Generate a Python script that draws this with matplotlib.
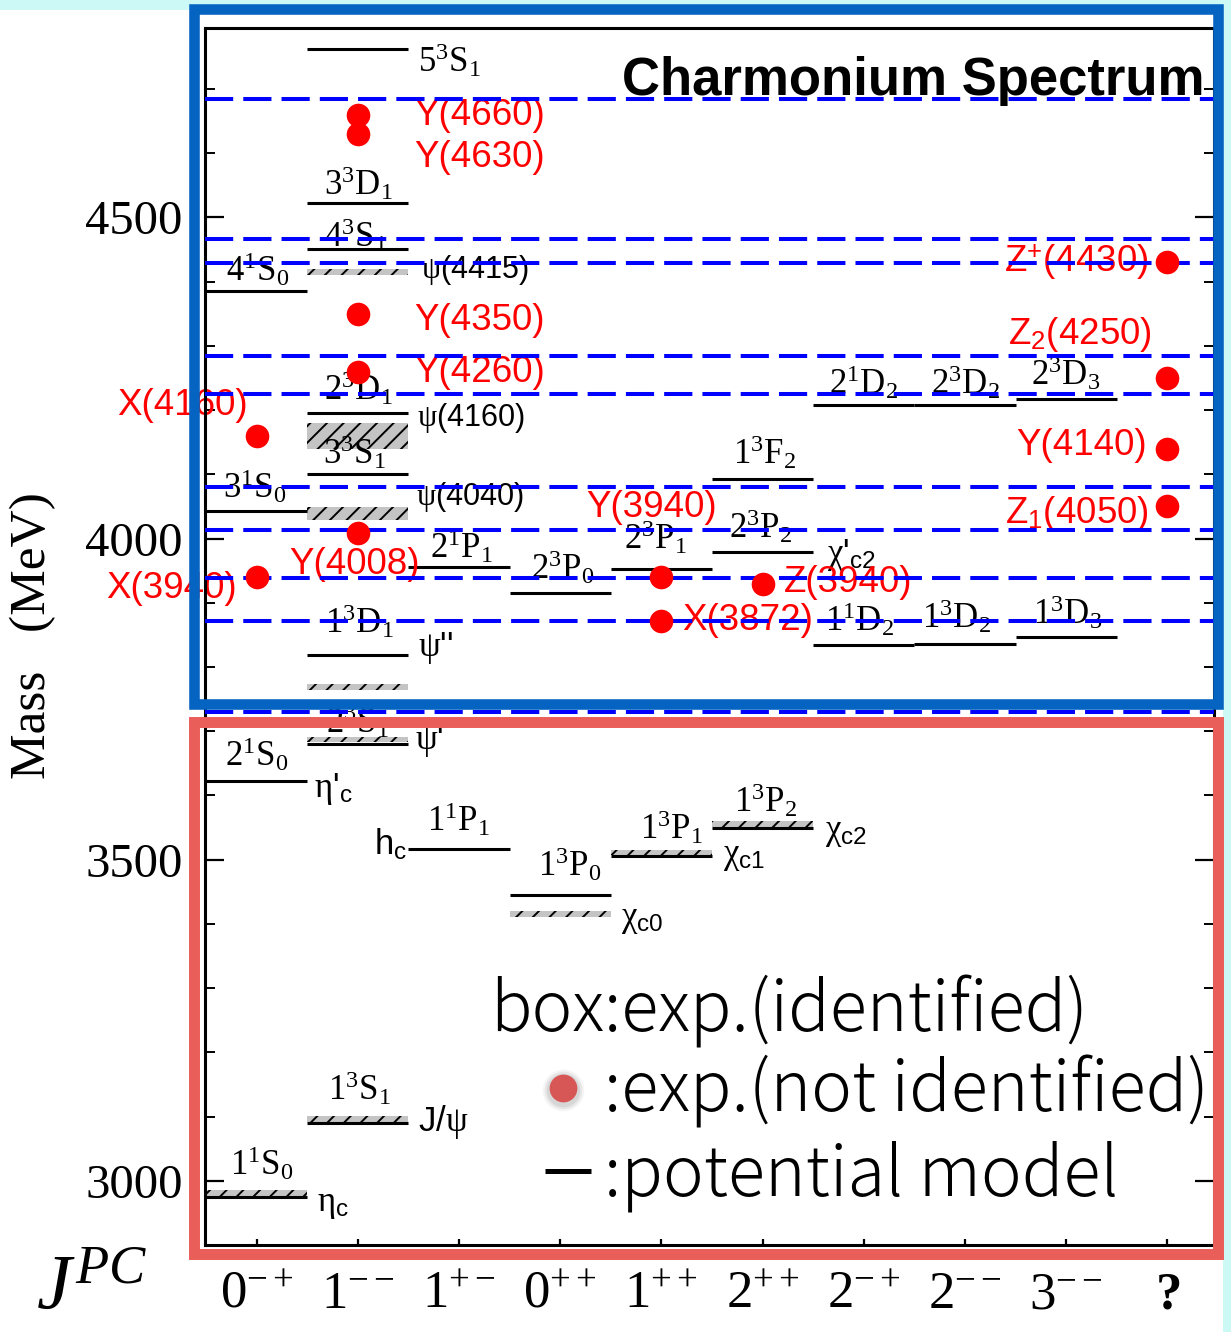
import matplotlib
matplotlib.use("Agg")
import matplotlib.pyplot as plt
from matplotlib.patches import Rectangle
from matplotlib.ticker import MultipleLocator

plt.rcParams['mathtext.fontset'] = 'custom'
plt.rcParams['mathtext.rm'] = 'Liberation Serif'
plt.rcParams['mathtext.it'] = 'Liberation Serif:italic'
plt.rcParams['mathtext.bf'] = 'Liberation Serif:bold'
plt.rcParams['mathtext.sf'] = 'Liberation Sans'
plt.rcParams['hatch.linewidth'] = 1.4

# ---------------- data ----------------
jpc_labels = [r"$0^{-+}$", r"$1^{--}$", r"$1^{+-}$", r"$0^{++}$", r"$1^{++}$",
              r"$2^{++}$", r"$2^{-+}$", r"$2^{--}$", r"$3^{--}$", r"$\mathbf{?}$"]

# potential model levels
pot_cat = [0, 0, 0, 0, 1, 1, 1, 1, 1, 1, 1, 1, 2, 2, 3, 3, 4, 4, 5, 5, 5, 6, 6, 7, 7, 8, 8]
pot_mass = [2975, 3623, 4043, 4385, 3090, 3680, 3819, 4100, 4195, 4451, 4522, 4762,
            3517, 3955, 3445, 3915, 3505, 3952, 3550, 3979, 4092, 4208, 3835, 4208, 3836,
            4217, 3847]
pot_label = [r"$1^1\mathrm{S}_0$", r"$2^1\mathrm{S}_0$", r"$3^1\mathrm{S}_0$", r"$4^1\mathrm{S}_0$",
             r"$1^3\mathrm{S}_1$", r"$2^3\mathrm{S}_1$", r"$1^3\mathrm{D}_1$", r"$3^3\mathrm{S}_1$",
             r"$2^3\mathrm{D}_1$", r"$4^3\mathrm{S}_1$", r"$3^3\mathrm{D}_1$", r"$5^3\mathrm{S}_1$",
             r"$1^1\mathrm{P}_1$", r"$2^1\mathrm{P}_1$", r"$1^3\mathrm{P}_0$", r"$2^3\mathrm{P}_0$",
             r"$1^3\mathrm{P}_1$", r"$2^3\mathrm{P}_1$", r"$1^3\mathrm{P}_2$", r"$2^3\mathrm{P}_2$",
             r"$1^3\mathrm{F}_2$", r"$2^1\mathrm{D}_2$", r"$1^1\mathrm{D}_2$", r"$2^3\mathrm{D}_2$",
             r"$1^3\mathrm{D}_2$", r"$2^3\mathrm{D}_3$", r"$1^3\mathrm{D}_3$"]
# label placement relative to the level (category units, MeV)
pot_label_off = [(0.05, 52), (0.0, 42), (-0.02, 38), (0.01, 35),
                 (0.02, 54), (0.0, 35), (0.02, 53), (-0.03, 35),
                 (0.01, 40), (-0.02, 21), (0.01, 31), (0.91, -17),
                 (-0.01, 46), (0.02, 34), (0.09, 48), (0.02, 41),
                 (0.1, 46), (-0.06, 50), (0.03, 43), (-0.02, 40),
                 (0.02, 42), (0.0, 36), (-0.04, 40), (0.0, 36),
                 (-0.08, 44), (-0.01, 41), (0.01, 39)]

# state names attached to potential levels (index into pot lists)
name_idx = [1, 12, 19, 6]
name_text = [r"$\mathrm{\eta}$'$_\mathsf{c}$", r"h$_\mathsf{c}$", r"$\mathrm{\chi}$'$_\mathsf{c2}$",
             r"$\mathrm{\psi}$''"]
name_off = [(0.76, -13), (-0.68, 6), (0.88, -5), (0.77, 11)]

# identified experimental states (hatched boxes)
box_cat = [0, 1, 1, 1, 1, 1, 1, 3, 4, 5]
box_mass = [2980, 3096, 3687, 3769, 4039, 4160, 4415, 3415, 3511, 3556]
box_half = [5, 4.5, 4.5, 4.5, 9.5, 20, 5, 4.5, 4.5, 4.5]
box_name = [r"$\mathrm{\eta}_\mathsf{c}$", r"J/$\mathrm{\psi}$", r"$\mathrm{\psi}$'", "",
            r"$\mathrm{\psi}$(4040)", r"$\mathrm{\psi}$(4160)", r"$\mathrm{\psi}$(4415)",
            r"$\mathrm{\chi}_\mathsf{c0}$", r"$\mathrm{\chi}_\mathsf{c1}$", r"$\mathrm{\chi}_\mathsf{c2}$"]
box_name_off = [(0.75, -17), (0.84, -5), (0.71, -2), (0, 0), (1.11, 25), (1.12, 27),
                (1.16, 3), (0.81, -8), (0.82, -6), (0.82, -13)]

# not identified experimental states (red dots)
dot_cat = [0, 0, 1, 1, 1, 1, 1, 4, 4, 5, 9, 9, 9, 9]
dot_mass = [3940, 4160, 4008, 4260, 4350, 4630, 4660, 3940, 3872, 3930, 4430, 4250, 4140, 4050]
dot_label = ["X(3940)", "X(4160)", "Y(4008)", "Y(4260)", "Y(4350)", "Y(4630)", "Y(4660)",
             "Y(3940)", "X(3872)", "Z(3940)", r"Z$^\mathsf{+}$(4430)", r"Z$_\mathsf{2}$(4250)",
             "Y(4140)", r"Z$_\mathsf{1}$(4050)"]
dot_label_off = [(-0.84, -18), (-0.73, 47), (-0.03, -48), (1.2, -2), (1.2, -11), (1.2, -36),
                 (1.2, -1), (-0.1, 108), (0.85, 1), (0.84, 1), (-0.9, 1), (-0.86, 67),
                 (-0.85, 5), (-0.89, -11)]

# open-charm thresholds (blue dashed)
thresholds = [3730, 3871, 3939, 4014, 4080, 4225, 4285, 4429, 4467, 4685]

# ---------------- figure ----------------
W, H = 1231, 1332
fig = plt.figure(figsize=(W / 100, H / 100), dpi=100)
fig.patch.set_facecolor('white')


def fx(px):
    return px / W


def fy(py):
    return 1 - py / H


ax = fig.add_axes([fx(205), fy(1245), fx(1214) - fx(205), fy(28) - fy(1245)])
ax.set_xlim(-0.51, 9.46)
ax.set_ylim(2900, 4795)

for s in ax.spines.values():
    s.set_linewidth(2.2)
ax.yaxis.set_major_locator(MultipleLocator(500))
ax.yaxis.set_minor_locator(MultipleLocator(100))
ax.tick_params(axis='y', which='major', direction='in', length=14, width=1.6,
               left=True, right=True, pad=16, labelsize=35)
ax.tick_params(axis='y', which='minor', direction='in', length=7, width=1.4,
               left=True, right=True)
ax.set_yticks([3000, 3500, 4000, 4500])
for t in ax.get_yticklabels():
    t.set_fontfamily('Liberation Serif')
ax.set_xticks(range(10))
ax.set_xticklabels(jpc_labels, fontsize=38)
ax.tick_params(axis='x', direction='in', length=4, width=1.6, pad=16, top=False)

# thresholds
for m in thresholds:
    ax.axhline(m, color='#0000ff', lw=2.9, dashes=(7.0, 2.5), zorder=3)

# hatched boxes
for c, m, h in zip(box_cat, box_mass, box_half):
    ax.add_patch(Rectangle((c - 0.5, m - h), 1.0, 2 * h, facecolor='#c4c4c4',
                           edgecolor='black', hatch='//', lw=0, zorder=1.5))
for c, m, txt, (dx, dy) in zip(box_cat, box_mass, box_name, box_name_off):
    if txt:
        fs = 22 if '(' in txt else 25
        ax.text(c + dx, m + dy, txt, fontsize=fs, family='Liberation Sans',
                ha='center', va='center', zorder=2)

# potential levels
for c, m in zip(pot_cat, pot_mass):
    ax.plot([c - 0.5, c + 0.5], [m, m], color='black', lw=2.2, solid_capstyle='butt', zorder=2)
for c, m, txt, (dx, dy) in zip(pot_cat, pot_mass, pot_label, pot_label_off):
    ax.text(c + dx, m + dy, txt, fontsize=25, ha='center', va='center', zorder=2)
for i, txt, (dx, dy) in zip(name_idx, name_text, name_off):
    ax.text(pot_cat[i] + dx, pot_mass[i] + dy, txt, fontsize=25, family='Liberation Sans',
            ha='center', va='center', zorder=2)

# red dots
ax.plot(dot_cat, dot_mass, 'o', color='#ff0000', ms=17, mec='none', zorder=4, clip_on=False)
for c, m, txt, (dx, dy) in zip(dot_cat, dot_mass, dot_label, dot_label_off):
    ax.text(c + dx, m + dy, txt, fontsize=26.5, family='Liberation Sans', color='#ff0000',
            ha='center', va='center', zorder=2)

# title
fig.text(fx(1205), fy(95), "Charmonium Spectrum", fontsize=38, fontweight='bold',
         family='Liberation Sans', ha='right', va='baseline')

# axis labels
fig.text(fx(33), fy(636), "Mass   (MeV)", fontsize=37, family='Liberation Serif',
         rotation=90, ha='center', va='center')
fig.text(fx(92), fy(1286), r"$J^{PC}$", fontsize=56, ha='center', va='center')

# legend
lfont = ['Noto Sans CJK JP', 'DejaVu Sans']
fig.text(fx(490), fy(1032), "box:exp.(identified)", fontsize=49.5, family=lfont,
         fontweight='light', ha='left', va='baseline')
fig.text(fx(604), fy(1112), ":exp.(not identified)", fontsize=49.5, family=lfont,
         fontweight='light', ha='left', va='baseline')
fig.text(fx(604), fy(1195), ":potential model", fontsize=49.5, family=lfont,
         fontweight='light', ha='left', va='baseline')
for ms_, a in [(30, 0.08), (27, 0.12), (24, 0.15)]:
    fig.lines.append(plt.Line2D([fx(563)], [fy(1090)], marker='o', ms=ms_, color='gray',
                                alpha=a, mec='none', transform=fig.transFigure))
fig.lines.append(plt.Line2D([fx(563)], [fy(1088)], marker='o', ms=20, color='#d65755',
                            mec='none', transform=fig.transFigure))
fig.lines.append(plt.Line2D([fx(545), fx(591)], [fy(1171), fy(1171)], lw=3.6, color='black',
                            transform=fig.transFigure, solid_capstyle='butt'))

# decorative background & frames
fig.add_artist(Rectangle((0, fy(10)), 1, fy(0) - fy(10), transform=fig.transFigure,
                         facecolor='#ccf9f6', edgecolor='none', zorder=-1))
fig.add_artist(Rectangle((fx(1223), 0), 1 - fx(1223), 1, transform=fig.transFigure,
                         facecolor='#ccf9f6', edgecolor='none', zorder=-1))
fig.add_artist(Rectangle((fx(193.5), fy(704.5)), fx(1218) - fx(193.5), fy(9) - fy(704.5),
                         transform=fig.transFigure, fill=False, edgecolor='#0563c1',
                         lw=7.6, joinstyle='miter', zorder=10))
fig.add_artist(Rectangle((fx(193.8), fy(1253.5)), fx(1218) - fx(193.8), fy(721.5) - fy(1253.5),
                         transform=fig.transFigure, fill=False, edgecolor='#ea5e5a',
                         lw=7.9, joinstyle='miter', zorder=10))

fig.savefig("out.png", dpi=100)
